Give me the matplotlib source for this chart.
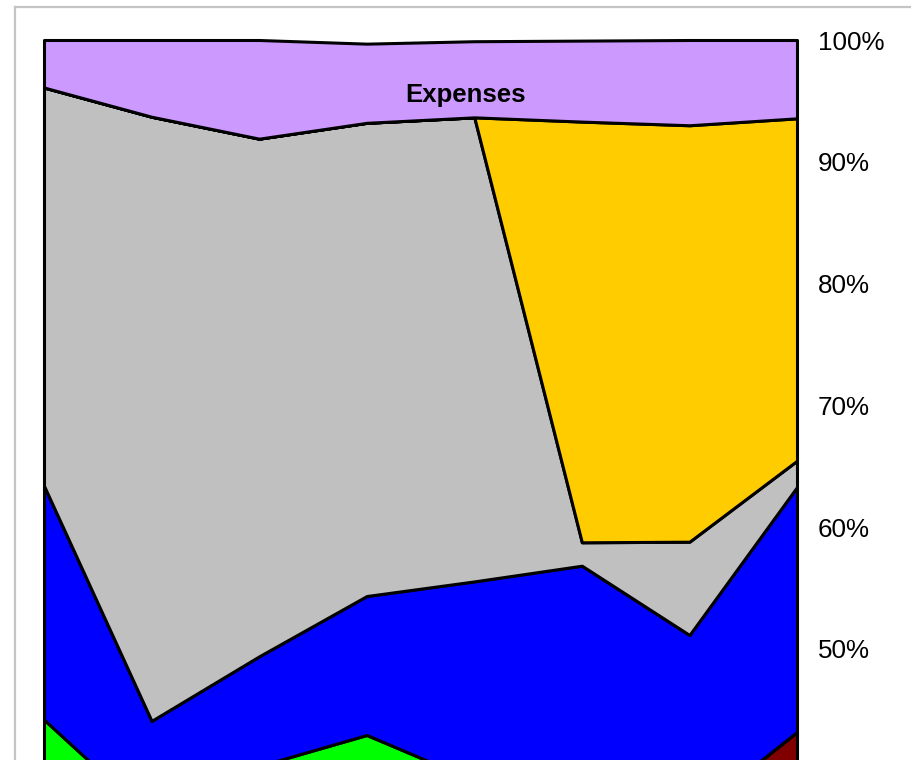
import numpy as np
import matplotlib
matplotlib.use("Agg")
import matplotlib.pyplot as plt
from matplotlib.lines import Line2D

plt.rcParams["font.family"] = ["Liberation Sans", "DejaVu Sans"]

# categorie (8 punti sull'asse x)
x = np.arange(8)

# spessore di ogni serie in % (dal basso verso l'alto)
maroon = [30.0, 30.0, 30.0, 30.0, 30.0, 30.0, 36.2, 43.2]
green = [14.2, 6.1, 10.4, 12.94, 9.2, 8.0, 0.0, 0.0]
blue = [19.2, 8.0, 9.0, 11.41, 16.35, 18.84, 14.95, 20.1]
grey = [32.7, 49.6, 42.5, 38.85, 38.1, 1.92, 7.66, 2.16]
yellow = [0.0, 0.0, 0.0, 0.0, 0.0, 34.54, 34.19, 28.11]
expenses = [3.9, 6.3, 8.1, 6.5, 6.25, 6.65, 7.0, 6.43]

colors = ["#800000", "#00ff00", "#0000ff", "#c0c0c0", "#ffcc00", "#cc99ff"]
yticks = list(range(0, 101, 10))

W, H = 911, 760
fig = plt.figure(figsize=(W / 100, H / 100), dpi=100)

# area del grafico: 100% a y=40px, 10% = 121.8px
top = 1 - 40 / H
height = 1218 / H
ax = fig.add_axes([44 / W, top - height, 753 / W, height])

polys = ax.stackplot(x, maroon, green, blue, grey, yellow, expenses,
                     colors=colors, edgecolor="black", linewidth=2.2)
for p in polys:
    p.set_clip_on(False)

ax.set_xlim(0, 7)
ax.set_ylim(0, 100)
for s in ax.spines.values():
    s.set_visible(False)
ax.set_xticks([])
ax.yaxis.tick_right()
ax.set_yticks(yticks)
ax.set_yticklabels([f"{v}%" for v in yticks])
ax.tick_params(axis="y", length=0, pad=15, labelsize=18.7)

ax.text(3.92, 94.93, "Expenses", ha="center", va="baseline",
        fontsize=18.5, fontweight="bold")

# bordo grigio esterno
fig.add_artist(Line2D([15 / W, 15 / W], [0, 1 - 7 / H], transform=fig.transFigure,
                      color="#c4c4c4", linewidth=1.6))
fig.add_artist(Line2D([15 / W, 1], [1 - 7 / H, 1 - 7 / H], transform=fig.transFigure,
                      color="#c4c4c4", linewidth=1.6))

fig.savefig("out.png", dpi=100)
